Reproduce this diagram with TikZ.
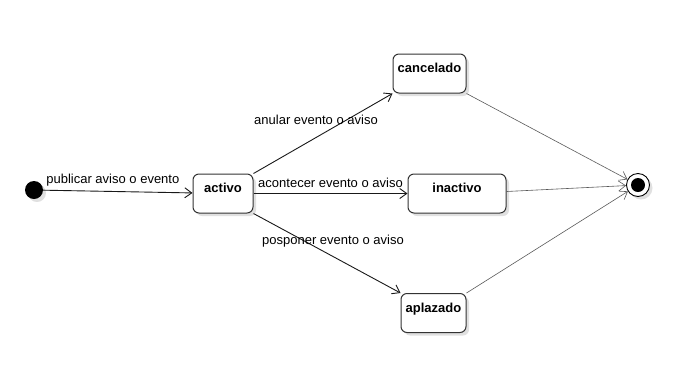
\documentclass[tikz,border=0pt]{standalone}
\usepackage{fontspec}
\setmainfont{Liberation Sans}
\usetikzlibrary{arrows.meta,shadows}

\tikzset{
	state/.style={draw=black!80, line width=1pt, rounded corners=6pt, fill=white,
		font=\fontsize{13}{15}\selectfont\bfseries, text height=9.5pt, text depth=11pt, minimum height=39pt,
		drop shadow={shadow xshift=3pt, shadow yshift=-3pt, fill=black, opacity=0.12}},
	trans/.style={draw=black!90, line width=0.9pt, -{Straight Barb[length=7pt,width=10pt]}},
	toend/.style={draw=black!65, line width=0.6pt, -{Straight Barb[length=7pt,width=10pt]}},
	lbl/.style={font=\fontsize{13}{15}\selectfont, inner sep=1pt}
}

\begin{document}
\begin{tikzpicture}[x=1pt, y=-1pt]
		\useasboundingbox (0,0) rectangle (689,384);

		% initial and final pseudo states
		\node[circle, fill=black, minimum size=18pt, inner sep=0pt,
			drop shadow={shadow xshift=3pt, shadow yshift=-3pt, fill=black, opacity=0.12}] (inicio) at (34,190) {};
		\node[circle, draw=black, line width=0.9pt, fill=white, minimum size=23pt, inner sep=0pt,
			drop shadow={shadow xshift=3pt, shadow yshift=-3pt, fill=black, opacity=0.12}] (fin) at (638,185) {};
		\node[circle, fill=black, minimum size=14pt, inner sep=0pt] (finnucleo) at (fin) {};

		% the states
		\node[state, minimum width=60pt] (activo) at (223,193.5) {activo};
		\node[state, minimum width=73pt] (cancelado) at (429.5,73.5) {cancelado};
		\node[state, minimum width=98pt] (inactivo) at (457,193.5) {inactivo};
		\node[state, minimum width=65pt] (aplazado) at (433.5,313) {aplazado};

		% transitions out of activo
		\draw[trans] (inicio) -- node[lbl, above=4pt, xshift=-5pt]{publicar aviso o evento} (activo);
		\draw[trans] (activo.north east) -- node[lbl, midway, xshift=-7pt, yshift=14pt]{anular evento o aviso} (cancelado.south west);
		\draw[trans] (activo) -- node[lbl, above=4pt]{acontecer evento o aviso} (inactivo);
		\draw[trans] (activo.south east) -- node[lbl, midway, xshift=6pt, yshift=12pt]{posponer evento o aviso} (aplazado.north west);

		% transitions into the final state
		\draw[toend] (cancelado.south east) -- (fin);
		\draw[toend] ([yshift=2pt]inactivo.east) -- (fin);
		\draw[toend] (aplazado.north east) -- (fin);
	\end{tikzpicture}
\end{document}
